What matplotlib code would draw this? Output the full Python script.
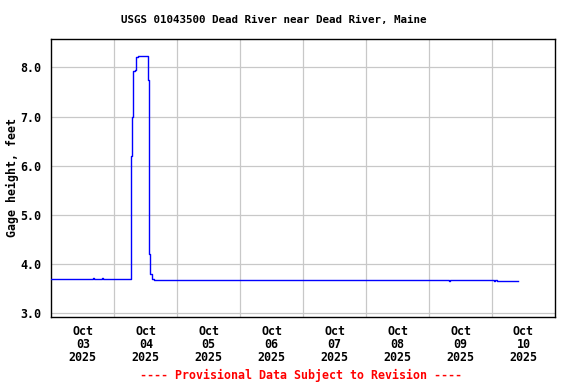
import matplotlib
matplotlib.use("Agg")
import matplotlib.pyplot as plt
import matplotlib.dates as mdates
import numpy as np
import pandas as pd

# gage height readings (hours after Oct 3 2025 00:00, feet) -- step changes
hours = [0, 16.0, 16.3, 19.3, 19.6, 30.3, 30.6, 30.95, 31.8, 32.3, 33.2,
         36.6, 36.95, 37.25, 37.6, 38.3, 39.0, 95.0, 151.6, 151.9,
         168.8, 169.1, 170.0, 170.3, 177.9]
height = [3.70, 3.71, 3.70, 3.71, 3.70, 6.20, 7.00, 7.92, 7.95, 8.20, 8.24,
          8.22, 7.75, 4.20, 3.80, 3.69, 3.68, 3.675, 3.66, 3.675,
          3.66, 3.67, 3.66, 3.655, 3.655]

start = pd.Timestamp("2025-10-03 00:00")
times = start + pd.to_timedelta(hours, unit="h")

days = pd.date_range("2025-10-03", "2025-10-11", freq="D")
label_pos = days[:-1] + pd.Timedelta(hours=12)
labels = [d.strftime("Oct\n%d\n%Y") for d in days[:-1]]
yticks = [3.0, 4.0, 5.0, 6.0, 7.0, 8.0]

font = "DejaVu Sans Mono"

fig = plt.figure(figsize=(5.76, 3.84), dpi=100)
ax = fig.add_axes([0.0891, 0.1753, 0.8744, 0.7224])

ax.plot(times, height, color="#0000ff", lw=1.0, drawstyle="steps-post", zorder=3)

ax.set_xlim(days[0], days[-1])
ax.set_ylim(2.93, 8.57)

# midnight gridlines, labels centered on noon
ax.set_xticks(days[1:-1])
ax.set_xticklabels([])
ax.set_xticks(label_pos, minor=True)
ax.set_xticklabels(labels, minor=True, fontfamily=font, fontweight="bold",
                   fontsize=8.4, linespacing=1.0)
ax.tick_params(axis="x", which="both", length=0, pad=6)

ax.set_yticks(yticks)
ax.set_yticklabels(["%.1f" % v for v in yticks], fontfamily=font,
                   fontweight="bold", fontsize=8.4)
ax.tick_params(axis="y", length=0, pad=7)

ax.grid(True, which="major", color="#c8c8c8", lw=0.9)
ax.set_axisbelow(True)
for s in ax.spines.values():
    s.set_color("black")
    s.set_linewidth(1.0)

ax.set_ylabel("Gage height, feet", fontfamily=font, fontweight="bold",
              fontsize=8.4, labelpad=1)

fig.text(274 / 576, 1 - 20 / 384, "USGS 01043500 Dead River near Dead River, Maine",
         ha="center", va="center", fontfamily=font, fontweight="bold", fontsize=7.8)
fig.text(301 / 576, 1 - 375 / 384, "---- Provisional Data Subject to Revision ----",
         ha="center", va="center", color="red", fontfamily=font,
         fontweight="bold", fontsize=8.4)

fig.savefig("out.png", dpi=100)
